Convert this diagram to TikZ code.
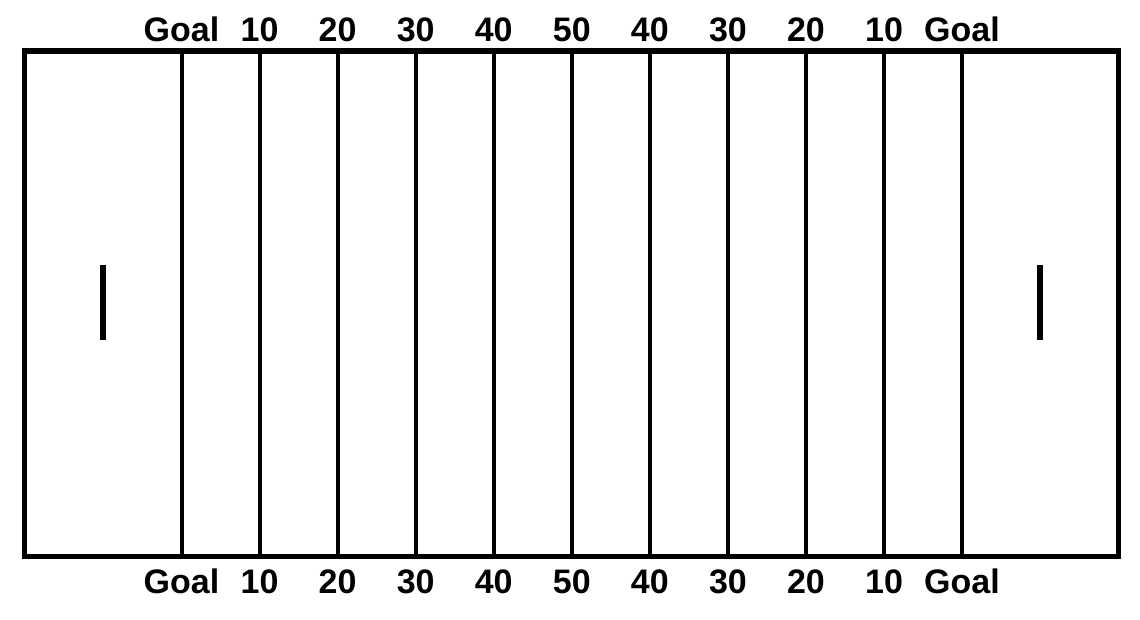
\documentclass[tikz,border=0pt]{standalone}
\usepackage{fontspec}
\setmainfont{Liberation Sans}
\begin{document}
\begin{tikzpicture}[x=0.5pt,y=-0.5pt,
    yardno/.style={font=\bfseries\fontsize{17}{19}\selectfont, anchor=base, inner sep=0pt}]
    \useasboundingbox (0,0) rectangle (1140,620);
    \draw[line width=2pt] (181.5,52) -- (181.5,554) (259.6,52) -- (259.6,554) (337.6,52) -- (337.6,554)
      (415.7,52) -- (415.7,554) (493.7,52) -- (493.7,554) (571.8,52) -- (571.8,554) (649.8,52) -- (649.8,554)
      (727.9,52) -- (727.9,554) (805.9,52) -- (805.9,554) (884,52) -- (884,554) (962,52) -- (962,554);
    \draw[line width=2.75pt] (24.5,51) rectangle (1118.5,556.5);
    \draw[line width=3pt] (102.5,265) -- (102.5,340) (1040,265) -- (1040,340);
    \node [yardno] (topGoalL) at (181.5,42) {Goal};
    \node [yardno] (top10L) at (259.6,42) {10};
    \node [yardno] (top20L) at (337.6,42) {20};
    \node [yardno] (top30L) at (415.7,42) {30};
    \node [yardno] (top40L) at (493.7,42) {40};
    \node [yardno] (top50) at (571.8,42) {50};
    \node [yardno] (top40R) at (649.8,42) {40};
    \node [yardno] (top30R) at (727.9,42) {30};
    \node [yardno] (top20R) at (805.9,42) {20};
    \node [yardno] (top10R) at (884,42) {10};
    \node [yardno] (topGoalR) at (962,42) {Goal};
    \node [yardno] (botGoalL) at (181.5,593) {Goal};
    \node [yardno] (bot10L) at (259.6,593) {10};
    \node [yardno] (bot20L) at (337.6,593) {20};
    \node [yardno] (bot30L) at (415.7,593) {30};
    \node [yardno] (bot40L) at (493.7,593) {40};
    \node [yardno] (bot50) at (571.8,593) {50};
    \node [yardno] (bot40R) at (649.8,593) {40};
    \node [yardno] (bot30R) at (727.9,593) {30};
    \node [yardno] (bot20R) at (805.9,593) {20};
    \node [yardno] (bot10R) at (884,593) {10};
    \node [yardno] (botGoalR) at (962,593) {Goal};
  \end{tikzpicture}
\end{document}
